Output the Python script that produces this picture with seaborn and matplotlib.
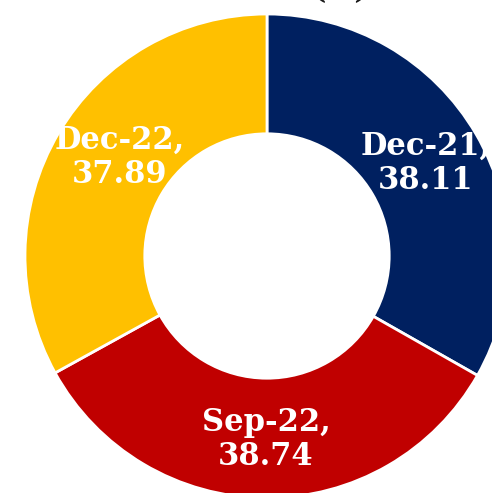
import matplotlib
matplotlib.use("Agg")
import matplotlib.pyplot as plt
import seaborn as sns

categories = ["Dec-21", "Sep-22", "Dec-22"]
values = [38.11, 38.74, 37.89]
colors = ["#002060", "#C00000", "#FFC000"]
title_text = "(%)"

sns.set_theme(style="white")
plt.rcParams["font.family"] = ["DejaVu Serif", "DejaVu Sans"]

W, H = 492, 493
fig = plt.figure(figsize=(W / 100, H / 100), dpi=100)
cx, cy, r = 267, 256, 242
ax = fig.add_axes([(cx - r) / W, (H - cy - r) / H, 2 * r / W, 2 * r / H])

labels = [f"{c},\n{v:.2f}" for c, v in zip(categories, values)]
wedges, texts = ax.pie(
    values,
    colors=colors,
    startangle=90,
    counterclock=False,
    radius=1.0,
    labels=labels,
    labeldistance=0.76,
    wedgeprops=dict(width=0.495, edgecolor="white", linewidth=2),
    textprops=dict(color="white", fontsize=22, fontweight="bold",
                   ha="center", va="center", linespacing=1.12),
)
for t in texts:
    t.set_ha("center")
    t.set_va("center")
# nudge the Dec-22 label slightly, like the reference's label placement
x2, y2 = texts[2].get_position()
texts[2].set_position((x2 + 0.045, y2 + 0.02))

ax.set_xlim(-1, 1)
ax.set_ylim(-1, 1)
ax.set_aspect("equal", adjustable="box")
ax.axis("off")

fig.text(340 / W, 1.0 + 2 / H, title_text, ha="center", va="baseline",
         fontsize=22, fontweight="bold", color="#1a1a1a")

fig.savefig("out.png", dpi=100, facecolor="white")
